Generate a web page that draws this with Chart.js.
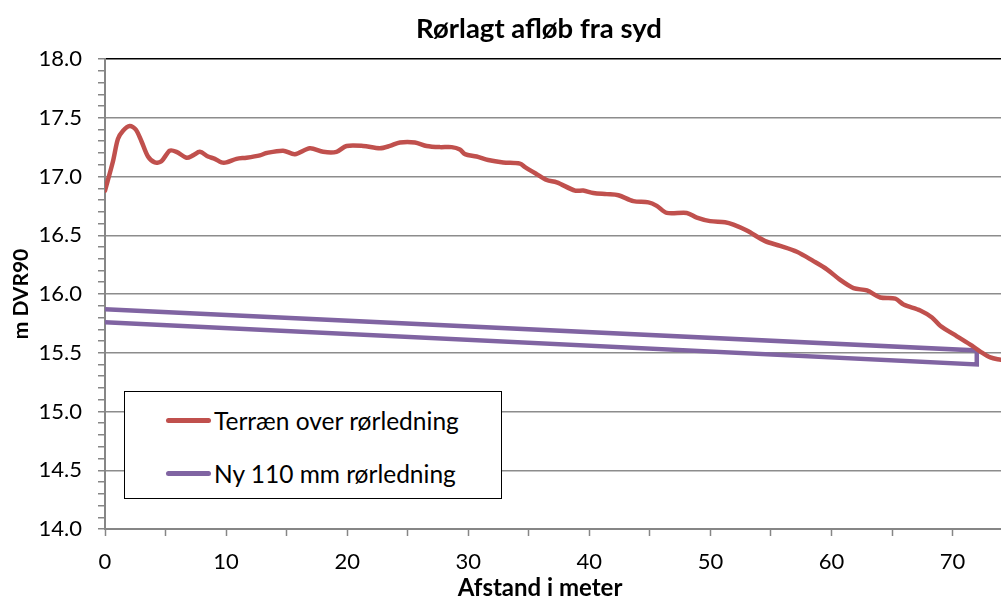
<!DOCTYPE html>
<html>
<head>
<meta charset="utf-8">
<script src="https://cdn.jsdelivr.net/npm/chart.js@4.4.1/dist/chart.umd.min.js"></script>
<style>
  html, body { margin: 0; padding: 0; background: #fff; }
  .wrap { position: relative; width: 1001px; height: 601px; overflow: hidden; }
  #legend {
    position: absolute; left: 124px; top: 391px; width: 378px; height: 108px;
    box-sizing: border-box; border: 1.5px solid #000; background: #fff;
    font-family: Lato, "Liberation Sans", sans-serif; font-size: 24.5px; color: #000;
  }
  #legend .item { position: absolute; left: 41px; display: flex; align-items: center; height: 28px; margin-top: -14px; }
  #legend .swatch { width: 45px; height: 5px; border-radius: 3px; margin-right: 3px; }
</style>
</head>
<body>
<div class="wrap">
  <canvas id="ch" width="1001" height="601"></canvas>
  <div id="legend"></div>
</div>
<script>
(function () {
  'use strict';

  var TITEL = 'Rørlagt afløb fra syd';
  var X_TITEL = 'Afstand i meter';
  var Y_TITEL = 'm DVR90';

  var RED = '#c0504d';
  var PURPLE = '#8064a2';
  var AKSE = '#868686';

  // terraen over roerledning (afstand i m, kote)
  var AFSTAND = [0, 0.66, 1.07, 1.49, 2.04, 2.54, 3.01, 3.55, 4.11, 4.66, 5.35, 5.9, 6.73, 7.27, 7.83, 8.51,
    9.07, 9.62, 10.03, 10.86, 11.69, 12.79, 13.34, 14.71, 15.68, 16.92, 18.02, 19.12, 19.95, 21.32, 22.7,
    23.53, 24.36, 25.6, 26.56, 27.66, 28.63, 29.31, 29.73, 30.69, 31.65, 32.89, 34.27, 34.69, 35.65, 36.48,
    37.31, 38.82, 39.5, 40.33, 41.44, 42.4, 43.64, 44.88, 45.57, 46.4, 48.05, 48.88, 49.98, 51.21, 51.9,
    53.01, 54.52, 55.76, 57.14, 58.51, 59.62, 60.72, 61.82, 62.93, 64.03, 65.27, 65.95, 67.33, 68.3, 68.98,
    70.36, 71.6, 72.29, 73.12, 74.0];
  var TERRAEN = [16.88, 17.13, 17.32, 17.39, 17.43, 17.40, 17.30, 17.17, 17.12, 17.13, 17.22, 17.21, 17.16, 17.18, 17.21, 17.17,
    17.15, 17.12, 17.12, 17.15, 17.16, 17.18, 17.20, 17.22, 17.19, 17.24, 17.21, 17.21, 17.26, 17.26, 17.24,
    17.26, 17.29, 17.29, 17.26, 17.25, 17.25, 17.23, 17.19, 17.17, 17.14, 17.12, 17.11, 17.08, 17.02, 16.97,
    16.95, 16.88, 16.88, 16.86, 16.85, 16.84, 16.79, 16.78, 16.75, 16.69, 16.69, 16.65, 16.62, 16.61, 16.59,
    16.54, 16.45, 16.41, 16.36, 16.28, 16.21, 16.12, 16.05, 16.03, 15.97, 15.96, 15.91, 15.86, 15.80, 15.73,
    15.64, 15.56, 15.51, 15.46, 15.44];

  // ny 110 mm roerledning (top og bund af roeret)
  var ROR_X = [0, 72, 72, 0];
  var ROR_Y = [15.87, 15.52, 15.40, 15.76];

  var X_MIN = 0, X_MAX = 74, X_STEP = 5, X_LABEL_STEP = 10;
  var Y_MIN = 14, Y_MAX = 18, Y_STEP = 0.1, Y_LABEL_STEP = 0.5;

  function punkter(xs, ys) {
    return xs.map(function (x, i) { return { x: x, y: ys[i] }; });
  }
  function erMultipel(v, step) {
    var q = v / step;
    return Math.abs(q - Math.round(q)) < 1e-6;
  }

  var FONT = 'Lato, "Liberation Sans", sans-serif';
  Chart.defaults.font.family = FONT;
  Chart.defaults.color = '#000';

  var tekster = {
    id: 'tekster',
    afterDraw: function (chart) {
      var c = chart.ctx;
      c.save();
      c.fillStyle = '#000';
      c.textAlign = 'center';
      c.textBaseline = 'middle';
      c.font = 'bold 27.5px ' + FONT;
      c.fillText(TITEL, 539, 29);
      c.font = 'bold 24px ' + FONT;
      c.fillText(X_TITEL, 540, 588);
      c.restore();
    }
  };

  var chart = new Chart(document.getElementById('ch'), {
    type: 'scatter',
    data: {
      datasets: [
        {
          label: 'Terræn over rørledning',
          data: punkter(AFSTAND, TERRAEN),
          showLine: true, borderColor: RED, backgroundColor: RED, borderWidth: 4.5,
          pointRadius: 0, tension: 0.3, borderCapStyle: 'round', borderJoinStyle: 'round'
        },
        {
          label: 'Ny 110 mm rørledning',
          data: punkter(ROR_X, ROR_Y),
          showLine: true, borderColor: PURPLE, backgroundColor: PURPLE, borderWidth: 4.5,
          pointRadius: 0, tension: 0, borderJoinStyle: 'miter'
        }
      ]
    },
    options: {
      responsive: false,
      animation: false,
      layout: { padding: { top: 59, right: 0, bottom: 0, left: 0 } },
      plugins: { legend: { display: false }, title: { display: false }, tooltip: { enabled: false } },
      scales: {
        x: {
          type: 'linear', position: 'bottom', min: X_MIN, max: X_MAX,
          afterBuildTicks: function (s) {
            s.ticks = s.ticks.filter(function (t) { return erMultipel(t.value, X_STEP); });
          },
          afterFit: function (s) { s.height = 72; },
          ticks: {
            stepSize: X_STEP, autoSkip: false, maxRotation: 0, padding: 13,
            font: { size: 22 },
            callback: function (v) { return erMultipel(v, X_LABEL_STEP) ? String(v) : ''; }
          },
          grid: { drawOnChartArea: false, tickLength: 7, tickColor: AKSE, tickWidth: 1.5 },
          border: { color: AKSE, width: 2 }
        },
        y: {
          min: Y_MIN, max: Y_MAX,
          afterFit: function (s) { s.width = 105; },
          ticks: {
            stepSize: Y_STEP, autoSkip: false, padding: 16,
            font: { size: 22 },
            callback: function (v) { return erMultipel(v, Y_LABEL_STEP) ? v.toFixed(1) : ''; }
          },
          grid: {
            tickLength: 7, tickColor: AKSE, tickWidth: 1.5, lineWidth: 1.5,
            color: function (ctx) {
              var v = ctx.tick.value;
              if (Math.abs(v - Y_MAX) < 1e-6) return '#000';
              return erMultipel(v, Y_LABEL_STEP) ? '#8c8c8c' : 'rgba(0,0,0,0)';
            }
          },
          border: { color: AKSE, width: 2 },
          title: { display: true, text: Y_TITEL, font: { size: 21, weight: 'bold' }, padding: { top: 9, bottom: 0 } }
        }
      }
    },
    plugins: [tekster]
  });

  // forklaring som boks inde i plottet
  var leg = document.getElementById('legend');
  var yPos = [28, 81];
  chart.data.datasets.forEach(function (ds, i) {
    var el = document.createElement('div');
    el.className = 'item';
    el.style.top = yPos[i] + 'px';
    el.innerHTML = '<span class="swatch" style="background:' + ds.borderColor + '"></span><span></span>';
    el.lastChild.textContent = ds.label;
    leg.appendChild(el);
  });
})();
</script>
</body>
</html>
